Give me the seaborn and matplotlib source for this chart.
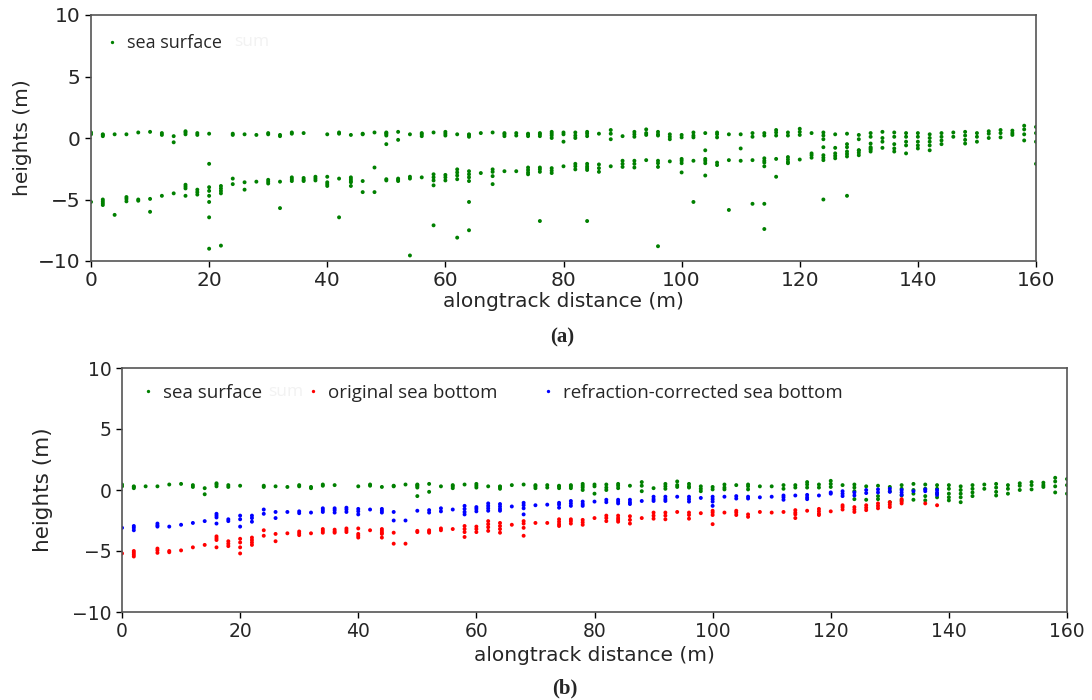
import numpy as np
import pandas as pd
import matplotlib
matplotlib.use("Agg")
import matplotlib.pyplot as plt
import seaborn as sns

# ---------------- data (heights in m at each 2 m along-track station) ----------------
stations = list(range(0, 161, 2))

sea_surface = [
    [0.3, 0.45], [0.15, 0.25, 0.3], [0.3], [0.3], [0.45], [0.5], [0.25, 0.4], [0.15, -0.35],
    [0.3, 0.45, 0.55], [0.25, 0.4], [0.35], [], [0.25, 0.35], [0.3], [0.25], [0.3, 0.4],
    [0.15, 0.25], [0.35, 0.45], [0.4], [], [0.3], [0.35, 0.45], [0.25], [0.3, 0.35],
    [0.45], [0.2, 0.3, 0.4, 0.45, -0.5], [0.5, -0.15], [0.3], [0.15, 0.3, 0.4], [0.45],
    [0.2, 0.35, 0.5], [0.3], [0.1, 0.25, 0.3], [0.4], [0.45], [0.15, 0.3, 0.4], [0.2, 0.4],
    [0.15, 0.3, 0.35], [0.15, 0.3, 0.4], [0.0, 0.2, 0.35, 0.5], [0.3, 0.45, -0.3],
    [0.0, 0.2, 0.45], [0.15, 0.35, 0.5], [0.35], [0.65, 0.35, -0.1], [0.15], [0.1, 0.3, 0.5],
    [0.25, 0.4, 0.7], [0.2, 0.3, 0.5], [-0.1, 0.1, 0.3], [0.05, 0.25], [0.05, 0.2, 0.45],
    [0.4], [0.05, 0.3, 0.45], [0.3], [0.3], [0.1, 0.4], [0.2, 0.4], [0.2, 0.45, 0.65],
    [0.2, 0.45], [0.25, 0.5, 0.75], [0.4], [-0.1, 0.2, 0.45, -0.75], [0.3, -0.8],
    [0.35, -0.5, -0.75], [0.25, -0.1, -1.0], [0.4, 0.1, -0.45, -0.85], [0.5, 0.0, -0.3, -0.8],
    [0.45, 0.1, -0.5, -0.85], [0.4, 0.1, -0.3, -0.6], [0.4, 0.1, -0.3, -0.6, -0.85],
    [0.3, 0.0, -0.3, -0.6, -1.0], [0.4, 0.1, -0.2, -0.5], [0.45, 0.1], [0.5, 0.2, -0.15, -0.45],
    [0.4, 0.1, -0.3], [0.55, 0.35, 0.0], [0.65, 0.4, 0.05], [0.6, 0.4, 0.25],
    [1.0, 0.7, 0.3, -0.2], [0.9, 0.4, -0.3],
]

original_bottom = [
    [-5.2], [-5.0, -5.15, -5.3, -5.45], [], [-4.8, -4.95, -5.15], [-5.0, -5.1], [-4.95],
    [-4.7], [-4.5], [-3.8, -3.95, -4.1, -4.7], [-4.2, -4.4, -4.6], [-4.0, -4.3, -4.7, -5.2],
    [-3.9, -4.1, -4.3, -4.5], [-3.3, -3.75], [-3.6, -4.2], [-3.55], [-3.4, -3.55, -3.7],
    [-3.55], [-3.2, -3.35, -3.5], [-3.25, -3.4, -3.5], [-3.15, -3.3, -3.45],
    [-3.15, -3.6, -3.75, -3.9], [-3.3], [-3.2, -3.35, -3.5, -3.6, -3.9], [-3.5, -4.4], [-4.4],
    [-3.35, -3.45], [-3.3, -3.4, -3.5], [-3.15, -3.3], [-3.2], [-2.95, -3.2, -3.45, -3.85],
    [-3.0, -3.2, -3.45], [-2.55, -2.8, -3.05, -3.35], [-2.7, -2.95, -3.2, -3.5], [-2.85],
    [-2.55, -2.75, -3.1, -3.75], [-2.7], [-2.7], [-2.4, -2.6, -2.8, -2.95], [-2.4, -2.55, -2.75],
    [-2.45, -2.65, -2.85], [-2.3], [-2.1, -2.3, -2.55], [-2.1, -2.3, -2.45, -2.6],
    [-2.15, -2.45, -2.75], [-2.3], [-1.85, -2.1, -2.35], [-1.85, -2.1, -2.4], [-1.8],
    [-1.85, -2.05, -2.35], [-1.9], [-1.7, -1.85, -2.05, -2.8], [-1.85], [-1.7, -1.85, -2.05],
    [-2.0, -2.2], [-1.8], [-1.85], [-1.8], [-1.65, -1.85, -2.0, -2.3], [-1.7],
    [-1.55, -1.75, -1.95, -2.05], [-1.75], [-1.25, -1.4, -1.6], [-1.4, -1.6, -1.8],
    [-1.25, -1.45, -1.65], [-1.1, -1.3, -1.5], [-1.0, -1.2, -1.4], [-0.75, -0.95, -1.1],
    [], [-1.1], [-1.25], [], [], [], [], [], [], [], [], [], [], [],
]

corrected_bottom = [
    [-3.1], [-2.95, -3.1, -3.3], [], [-2.75, -2.9, -3.0], [-3.0], [-2.85], [-2.7], [-2.55],
    [-1.95, -2.1, -2.25, -2.75], [-2.4, -2.55], [-2.1, -2.4, -3.0], [-2.1, -2.3, -2.6],
    [-1.6, -1.95], [-1.8, -2.3], [-1.8], [-1.75, -1.9], [-1.85], [-1.5, -1.65, -1.8],
    [-1.5, -1.65, -1.85], [-1.45, -1.6, -1.8], [-1.55, -1.75, -2.0], [-1.6],
    [-1.55, -1.7, -1.85], [-1.8, -2.5], [-2.5], [-1.7], [-1.65, -1.85], [-1.5, -1.75], [-1.6],
    [-1.3, -1.55, -1.8, -2.0], [-1.4, -1.55, -1.75], [-1.1, -1.3, -1.5, -1.7],
    [-1.15, -1.35, -1.55, -1.7], [-1.35], [-1.05, -1.25, -1.5, -2.0], [-1.25], [-1.2],
    [-1.05, -1.2, -1.45], [-0.9, -1.1, -1.3], [-0.95, -1.15, -1.3], [-0.95], [-0.8, -1.0],
    [-0.8, -0.95, -1.1], [-0.8, -1.0, -1.15], [-0.9], [-0.55, -0.75, -0.9], [-0.55, -0.75, -0.9],
    [-0.55], [-0.55, -0.75, -0.95], [-0.65], [-0.55, -0.75, -0.95, -1.3], [-0.55], [-0.5, -0.7],
    [-0.55, -0.7], [-0.6], [-0.55], [-0.45, -0.6, -0.8], [-0.45], [-0.4, -0.6, -0.75], [-0.45],
    [-0.2, -0.3], [-0.1, -0.3, -0.5], [-0.2, -0.45], [0.0, -0.25], [0.05, -0.2], [0.1, -0.15],
    [0.0, -0.2, -0.4], [-0.1], [0.05, -0.1], [0.0, -0.2, -0.4], [], [], [], [], [], [], [], [],
    [], [], [],
]

# isolated noise photons (shown only in panel a)
noise_x = [4, 10, 20, 20, 20, 22, 32, 42, 48, 54, 58, 62, 64, 64, 76, 84, 96, 102,
           104, 104, 108, 110, 112, 114, 114, 116, 124, 128, 160]
noise_h = [-6.25, -6.0, -2.1, -6.45, -9.0, -8.75, -5.7, -6.45, -2.4, -9.55, -7.1, -8.1,
           -5.2, -7.5, -6.75, -6.75, -8.8, -5.2, -1.0, -3.05, -5.85, -0.85, -5.35, -5.35,
           -7.4, -3.15, -5.0, -4.7, -2.1]

labels = ["sea surface", "original sea bottom", "refraction-corrected sea bottom"]
colors = ["green", "red", "blue"]
x_ticks = [0, 20, 40, 60, 80, 100, 120, 140, 160]
y_ticks = [-10, -5, 0, 5, 10]


def flatten(series, name):
    xs, hs = [], []
    for x, vals in zip(stations, series):
        for v in vals:
            xs.append(x)
            hs.append(v)
    return pd.DataFrame({"distance": xs, "height": hs, "series": name})


df_surf = flatten(sea_surface, labels[0])
df_orig = flatten(original_bottom, labels[1])
df_corr = flatten(corrected_bottom, labels[2])
df_noise = pd.DataFrame({"distance": noise_x, "height": noise_h, "series": labels[0]})

df_a = pd.concat([df_surf, df_orig, df_noise], ignore_index=True)
df_a["series"] = labels[0]
df_b = pd.concat([df_surf, df_orig, df_corr], ignore_index=True)

# ---------------- figure ----------------
sns.set_style("ticks")
plt.rcParams["font.family"] = ["DejaVu Sans"]

W, H = 1092, 700
fig = plt.figure(figsize=(W / 100, H / 100), dpi=100)


def rect(l, t, r, b):
    return [l / W, 1 - b / H, (r - l) / W, (b - t) / H]


ax_a = fig.add_axes(rect(91, 15, 1036, 261))
ax_b = fig.add_axes(rect(122, 368, 1067, 612))

palette = dict(zip(labels, colors))

sns.scatterplot(data=df_a, x="distance", y="height", hue="series", palette=palette,
                s=8, linewidth=0, ax=ax_a, legend=True)
sns.scatterplot(data=df_b, x="distance", y="height", hue="series", palette=palette,
                hue_order=labels, s=8, linewidth=0, ax=ax_b, legend=True)


def style(ax, fs, lab_fs, ylab_fs, xpad, ypad):
    ax.set_xlim(0, 160)
    ax.set_ylim(-10, 10)
    ax.set_xticks(x_ticks)
    ax.set_yticks(y_ticks)
    ax.tick_params(labelsize=fs, length=4, width=1, color="black")
    ax.set_xlabel("alongtrack distance (m)", fontsize=lab_fs, labelpad=xpad)
    ax.set_ylabel("heights (m)", fontsize=ylab_fs, labelpad=ypad)
    for sp in ax.spines.values():
        sp.set_color("#555555")
        sp.set_linewidth(1.2)


style(ax_a, 14.5, 14.5, 14.5, 1, 4)
style(ax_b, 13.5, 14.5, 15.5, 3, 14)


def fig_pt(px, py):
    return (px / W, 1 - py / H)


h, l = ax_a.get_legend_handles_labels()
ax_a.legend(h, l, loc="upper left", bbox_to_anchor=fig_pt(96, 27),
            bbox_transform=fig.transFigure, frameon=False,
            prop={"family": "Open Sans", "size": 13}, markerscale=0.85,
            handlelength=1.0, handletextpad=0.3, borderpad=0.4, borderaxespad=0)
h, l = ax_b.get_legend_handles_labels()
ax_b.legend(h, l, loc="upper left", bbox_to_anchor=fig_pt(131, 376),
            bbox_transform=fig.transFigure, frameon=False,
            prop={"family": "Open Sans", "size": 13.5}, ncol=3, markerscale=0.85,
            handlelength=1.0, handletextpad=0.3, borderpad=0.4, columnspacing=2.2,
            borderaxespad=0)

# faint ghost text visible in the reference
fig.text(*fig_pt(234, 42), "sum", fontsize=12.5, family="Open Sans", color="#f2f2f2",
         va="center")
fig.text(*fig_pt(268, 392), "sum", fontsize=12.5, family="Open Sans", color="#f2f2f2",
         va="center")

fig.text(*fig_pt(562, 337), "(a)", ha="center", va="center", fontsize=15,
         fontweight="bold", family="Liberation Serif")
fig.text(*fig_pt(565, 688), "(b)", ha="center", va="center", fontsize=15,
         fontweight="bold", family="Liberation Serif")

fig.savefig("out.png", dpi=100)
